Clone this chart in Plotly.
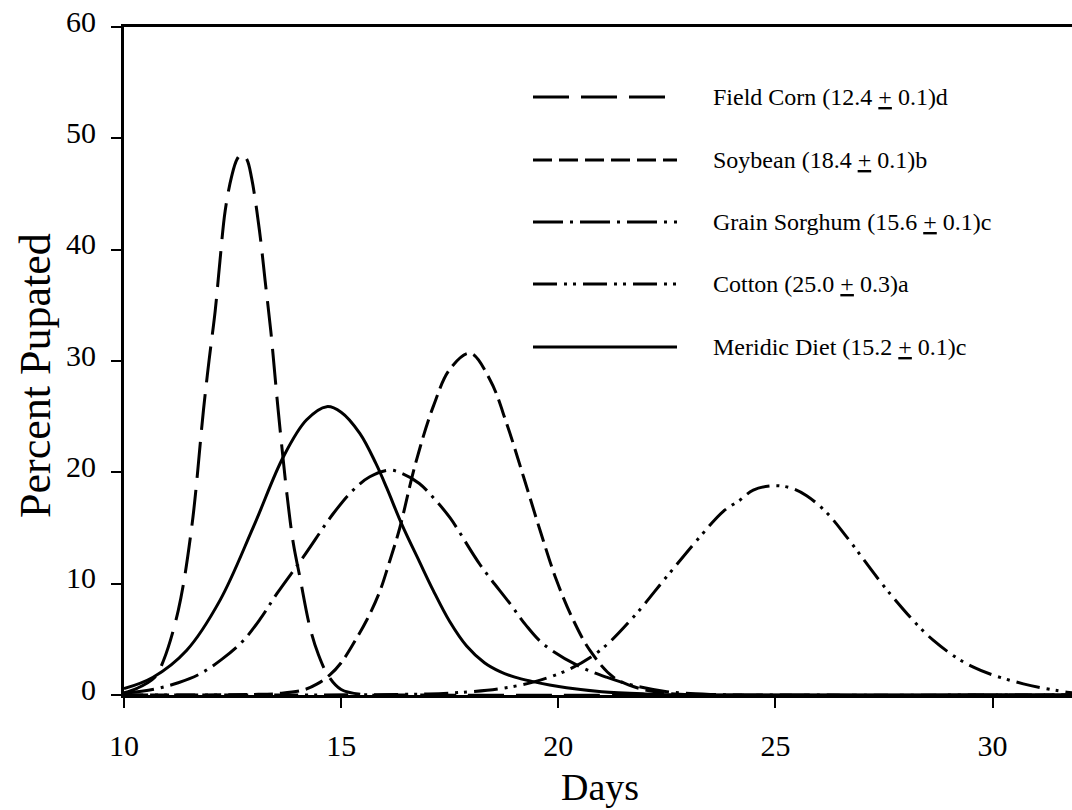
import plotly.graph_objects as go

# ---- data ----
corn_x = [10.0, 10.3, 10.71, 10.91, 11.25, 11.56, 11.83, 11.96, 12.10, 12.21, 12.33, 12.48, 12.60, 12.71,
          12.83, 12.94, 13.12, 13.25, 13.38, 13.55, 13.75, 13.90, 14.05, 14.28, 14.47, 14.70, 15.0, 15.5,
          16.5, 31.83]
corn_y = [0.2, 0.6, 1.6, 3.1, 7.6, 15.1, 25.6, 30.1, 34.5, 39.0, 43.5, 46.6, 48.1, 48.6,
          48.1, 46.4, 41.7, 37.2, 32.7, 25.6, 18.1, 13.6, 10.6, 6.1, 3.7, 1.76, 0.5, 0.05,
          0.0, 0.0]

soy_x = [10.0, 13.0, 13.6, 14.13, 14.45, 14.74, 15.0, 15.28, 15.60, 15.89, 16.10, 16.35, 16.70, 17.12,
         17.51, 17.97, 18.43, 18.81, 19.20, 19.58, 19.96, 20.35, 20.73, 21.27, 21.88, 22.5, 23.5, 31.83]
soy_y = [0.0, 0.05, 0.15, 0.45, 1.0, 1.8, 2.9, 4.6, 6.8, 9.3, 11.8, 15.0, 20.6, 25.9,
         29.3, 30.7, 28.3, 24.4, 19.6, 14.8, 10.3, 6.7, 4.0, 1.6, 0.57, 0.15, 0.0, 0.0]

sorg_x = [10.0, 10.75, 11.25, 11.75, 12.25, 12.75, 13.15, 13.52, 14.13, 14.82, 15.25, 15.66, 16.12, 16.40,
          16.80, 17.15, 17.51, 18.20, 18.89, 19.25, 19.65, 20.42, 21.11, 21.73, 22.5, 23.5, 25.0, 31.83]
sorg_y = [0.15, 0.57, 1.1, 1.9, 3.2, 4.9, 6.9, 9.1, 12.4, 16.3, 18.3, 19.6, 20.2, 19.9,
          19.0, 17.6, 15.9, 11.7, 8.2, 6.3, 4.6, 2.7, 1.6, 0.86, 0.3, 0.05, 0.0, 0.0]

cot_x = [10.0, 17.0, 18.0, 18.66, 19.42, 20.19, 20.96, 21.73, 22.49, 23.26, 23.80, 24.18, 24.49, 24.95,
         25.35, 25.72, 26.20, 26.64, 27.64, 28.64, 29.56, 30.71, 31.71, 31.83]
cot_y = [0.0, 0.1, 0.3, 0.57, 1.16, 2.2, 4.0, 7.0, 10.6, 14.2, 16.5, 17.5, 18.4, 18.8,
         18.6, 17.9, 16.3, 14.2, 9.1, 4.9, 2.5, 1.0, 0.26, 0.2]

diet_x = [10.0, 10.67, 11.44, 12.21, 12.98, 13.67, 14.20, 14.67, 15.00, 15.43, 15.80, 16.05, 16.40, 16.80,
          17.12, 17.50, 17.89, 18.30, 18.66, 19.00, 19.42, 19.80, 20.19, 21.0, 22.0, 23.0, 31.83]
diet_y = [0.57, 1.6, 4.0, 8.5, 15.1, 21.4, 24.7, 25.9, 25.4, 23.5, 20.8, 18.6, 15.3, 12.0,
          9.4, 6.6, 4.4, 2.9, 2.1, 1.6, 1.2, 0.9, 0.65, 0.3, 0.1, 0.0, 0.0]

names = ["Field Corn (12.4 <u>+</u> 0.1)d",
         "Soybean (18.4 <u>+</u> 0.1)b",
         "Grain Sorghum (15.6 <u>+</u> 0.1)c",
         "Cotton (25.0 <u>+</u> 0.3)a",
         "Meridic Diet (15.2 <u>+</u> 0.1)c"]

x_ticks = [10, 15, 20, 25, 30]
y_ticks = [0, 10, 20, 30, 40, 50, 60]

# ---- styles ----
dashes = ["36px,12px", "19px,7px", "30px,7px,3px,7px", "24px,7px,3px,6px,3px,7px", "solid"]
FONT = "Liberation Serif"
series = [(corn_x, corn_y), (soy_x, soy_y), (sorg_x, sorg_y), (cot_x, cot_y), (diet_x, diet_y)]

fig = go.Figure()
for (xs, ys), nm, ds in zip(series, names, dashes):
    fig.add_trace(go.Scatter(x=xs, y=ys, mode="lines", name=nm, showlegend=False,
                             line=dict(color="black", width=3, dash=ds, shape="spline", smoothing=1.0)))

# custom legend (sample lines + labels), placed in pixel-derived paper coords
W0, W = 124, 948
H0, H = 27, 668
def px(xp):
    return (xp - W0) / W
def py(yp):
    return 1 - (yp - H0) / H

leg_y = [97, 160, 222, 284, 347]
shapes = []
annotations = []
for nm, ds, yy in zip(names, dashes, leg_y):
    shapes.append(dict(type="line", xref="paper", yref="paper", x0=px(533), x1=px(677),
                       y0=py(yy), y1=py(yy), line=dict(color="black", width=3, dash=ds)))
    annotations.append(dict(xref="paper", yref="paper", x=px(711), y=py(yy), text=nm,
                            showarrow=False, xanchor="left", yanchor="middle",
                            font=dict(family=FONT, size=24, color="black")))

annotations.append(dict(xref="paper", yref="paper", x=px(600), y=py(787), text="Days",
                        showarrow=False, xanchor="center", yanchor="middle",
                        font=dict(family=FONT, size=38, color="black")))
annotations.append(dict(xref="paper", yref="paper", x=px(35), y=py(376), text="Percent Pupated",
                        showarrow=False, xanchor="center", yanchor="middle", textangle=-90,
                        font=dict(family=FONT, size=44, color="black")))

fig.update_layout(
    width=1072, height=810,
    margin=dict(l=124, r=0, t=27, b=115),
    paper_bgcolor="white", plot_bgcolor="white",
    shapes=shapes, annotations=annotations,
    font=dict(family=FONT, color="black"),
    xaxis=dict(range=[10, 31.83], tickvals=x_ticks, showgrid=False, zeroline=False,
               showline=True, linecolor="black", linewidth=3, mirror=True,
               ticks="outside", ticklen=10, tickwidth=2, tickcolor="black",
               ticklabelstandoff=12, tickfont=dict(family=FONT, size=30, color="black")),
    yaxis=dict(range=[0, 60], tickvals=y_ticks, showgrid=False, zeroline=False,
               showline=True, linecolor="black", linewidth=3,
               ticks="outside", ticklen=10, tickwidth=2, tickcolor="black",
               ticklabelstandoff=9, ticklabelshift=-6,
               tickfont=dict(family=FONT, size=30, color="black")),
)

fig.write_html("out.html")
